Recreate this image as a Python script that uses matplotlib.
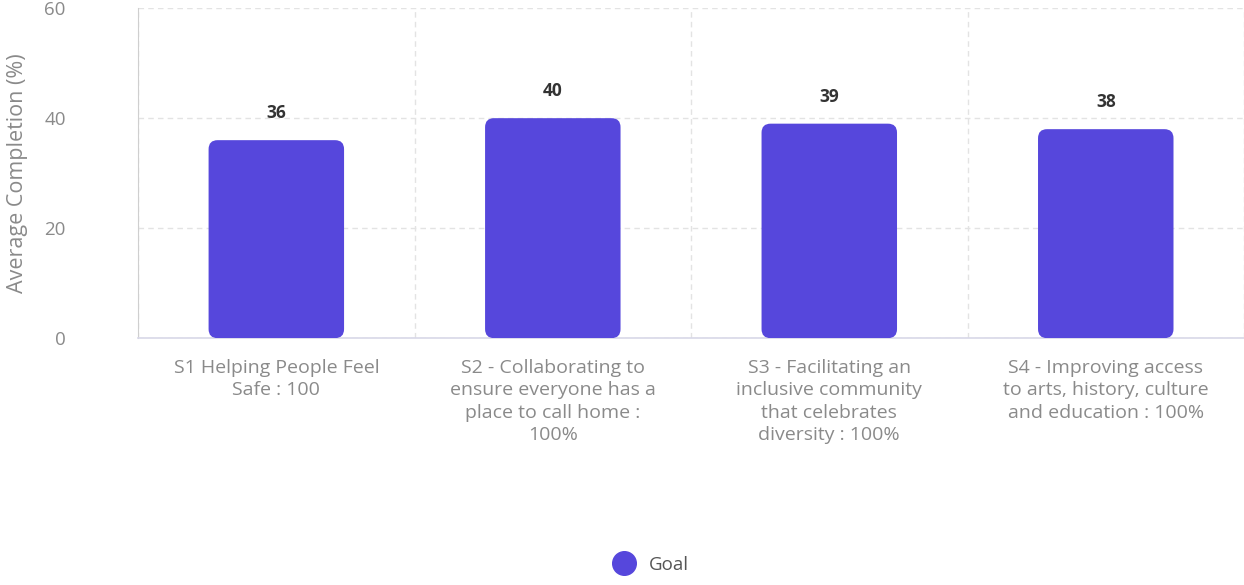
import matplotlib
matplotlib.use("Agg")
import matplotlib.pyplot as plt
from matplotlib.patches import FancyBboxPatch
from matplotlib.lines import Line2D
import numpy as np

categories = [
    "S1 Helping People Feel\nSafe : 100",
    "S2 - Collaborating to\nensure everyone has a\nplace to call home :\n100%",
    "S3 - Facilitating an\ninclusive community\nthat celebrates\ndiversity : 100%",
    "S4 - Improving access\nto arts, history, culture\nand education : 100%",
]
values = [36, 40, 39, 38]
yticks = [0, 20, 40, 60]
series_name = "Goal"

bar_color = "#5647DC"
grey_text = "#8a8a8a"
grid_color = "#e3e3e3"

plt.rcParams['font.family'] = ['Open Sans', 'DejaVu Sans']

fig = plt.figure(figsize=(12.44, 5.85), dpi=100)
ax = fig.add_axes([0.111, 0.422, 0.889, 0.564])

x = np.arange(len(categories))
bw = 0.49
bars = ax.bar(x, values, width=bw, color=bar_color, zorder=3)

ax.set_xlim(-0.5, len(categories) - 0.5)
ax.set_ylim(0, 60)

# rounded bars
fig.canvas.draw()
px_per_x = ax.bbox.width / (ax.get_xlim()[1] - ax.get_xlim()[0])
px_per_y = ax.bbox.height / (ax.get_ylim()[1] - ax.get_ylim()[0])
r_px = 9
rx = r_px / px_per_x
aspect = px_per_x / px_per_y
for b in bars:
    b.set_visible(False)
    p = FancyBboxPatch((b.get_x(), b.get_y()), b.get_width(), b.get_height(),
                       boxstyle=f"round,pad=0,rounding_size={rx}",
                       mutation_aspect=aspect, facecolor=bar_color,
                       edgecolor="none", zorder=3)
    ax.add_patch(p)
    ax.text(b.get_x() + b.get_width() / 2, b.get_height() + 18 / px_per_y,
            f"{b.get_height():g}", ha="center", va="bottom",
            fontsize=12.5, fontweight="bold", color="#333333", zorder=4)

ax.set_yticks(yticks)
ax.set_yticklabels([str(t) for t in yticks], fontsize=13.5, color=grey_text)
ax.tick_params(axis="y", length=0, pad=52)
ax.set_xticks(x)
ax.set_xticklabels(categories, fontsize=14, color=grey_text, linespacing=1.32)
ax.tick_params(axis="x", length=0, pad=15)

ax.set_xticks(np.arange(-0.5, len(categories), 1.0), minor=True)
ax.tick_params(axis="x", which="minor", length=0)
ax.grid(axis="y", which="major", color=grid_color, linestyle=(0, (4, 3)), linewidth=1, zorder=0)
ax.grid(axis="x", which="minor", color=grid_color, linestyle=(0, (4, 3)), linewidth=1, zorder=0)

for s in ["top", "right"]:
    ax.spines[s].set_visible(False)
ax.spines["left"].set_color("#cfcfcf")
ax.spines["bottom"].set_color("#d8d8e8")
ax.spines["bottom"].set_linewidth(1.2)

ax.set_ylabel("Average Completion (%)", fontsize=15.5, color=grey_text, labelpad=12)

handle = Line2D([], [], marker="o", linestyle="none", markersize=17,
                markerfacecolor=bar_color, markeredgecolor=bar_color)
fig.legend([handle], [series_name], loc="lower center", bbox_to_anchor=(0.52, -0.01),
           frameon=False, fontsize=13.5, handletextpad=0.3, labelcolor="#555555")

fig.savefig("out.png", dpi=100)
